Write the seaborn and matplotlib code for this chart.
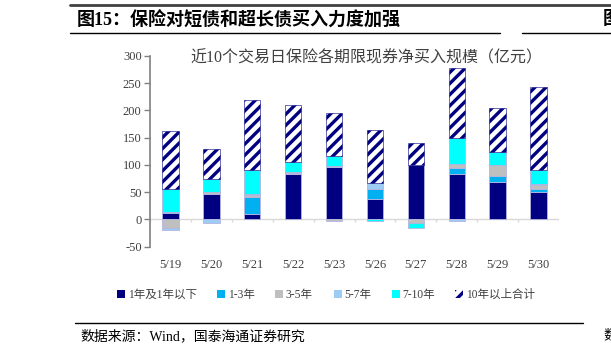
import numpy as np
import matplotlib
matplotlib.use("Agg")
import matplotlib.pyplot as plt
import matplotlib.patches as mpatches
import seaborn as sns

# 近10个交易日保险各期限现券净买入规模（亿元）
dates = ['5/19', '5/20', '5/21', '5/22', '5/23', '5/26', '5/27', '5/28', '5/29', '5/30']
y_1 = [12, 47, 10, 83, 96, 37, 100, 83, 68, 50]
y_1_3 = [2, 0, 31, 0, 0, 19, 0, 11, 11, 6]
y_3_5 = [-15, 4, 3, 2, -2, 0, -6, 8, 21, 7]
y_5_7 = [-4, -6, 2, 3, 3, 11, 0, -3, 0, 2]
y_7_10 = [42, 24, 45, 18, 17, -3, -10, 47, 24, 26]
y_10 = [106, 54, 128, 104, 80, 98, 40, 129, 81, 152]

names = ['1年及1年以下', '1-3年', '3-5年', '5-7年', '7-10年', '10年以上合计']
colors = ['#000080', '#00B0F0', '#BFBFBF', '#9DCCF5', '#00FFFF', 'white']
series = [y_1, y_1_3, y_3_5, y_5_7, y_7_10, y_10]

sns.set_style('white')
plt.rcParams['font.family'] = ['Liberation Serif', 'Noto Sans CJK SC', 'DejaVu Sans']
plt.rcParams['hatch.linewidth'] = 2.4
plt.rcParams['axes.unicode_minus'] = False

fig = plt.figure(figsize=(6.11, 3.56), dpi=100)
ax = fig.add_axes([150 / 611, 1 - 246.7 / 356, 409 / 611, 190.7 / 356])

pos = np.zeros(len(dates))
neg = np.zeros(len(dates))
for name, col, vals in zip(names, colors, series):
    v = np.array(vals, dtype=float)
    bottom = np.where(v >= 0, pos, neg)
    if name == '10年以上合计':
        sns.barplot(x=dates, y=v, order=dates, bottom=bottom, color='white',
                    edgecolor='#000080', hatch='///', linewidth=0.4,
                    width=0.4, errorbar=None, ax=ax, saturation=1)
    else:
        sns.barplot(x=dates, y=v, order=dates, bottom=bottom, color=col,
                    edgecolor='#B4B4E0', linewidth=0.6,
                    width=0.4, errorbar=None, ax=ax, saturation=1)
    pos = pos + np.where(v > 0, v, 0)
    neg = neg + np.where(v < 0, v, 0)

ax.set_ylim(-50, 300)
ax.set_xlim(-0.5, len(dates) - 0.5)
ax.set_yticks(range(-50, 301, 50))
ax.axhline(0, color='#D9D9D9', lw=1, zorder=0)
ax.vlines(np.arange(len(dates) + 1) - 0.5, -4, 0, color='#D9D9D9', lw=1)

for s in ['top', 'right', 'bottom']:
    ax.spines[s].set_visible(False)
ax.spines['left'].set_color('#808080')
ax.spines['left'].set_linewidth(1.2)
ax.tick_params(axis='y', direction='out', length=4, width=1, color='#808080',
               labelsize=9, labelcolor='#404040', pad=2, left=True)
ax.tick_params(axis='x', length=0, labelsize=9, labelcolor='#404040', pad=9)
ax.set_xlabel('')
ax.set_ylabel('')

ax.set_title('近10个交易日保险各期限现券净买入规模（亿元）', fontsize=11.5,
             color='#404040', x=0.528, y=0.965, pad=0)

handles = []
for name, col in zip(names, colors):
    if name == '10年以上合计':
        handles.append(mpatches.Patch(facecolor='white', edgecolor='#000080',
                                      hatch='///', linewidth=0, label=name))
    else:
        handles.append(mpatches.Patch(facecolor=col, edgecolor='none', label=name))
fig.legend(handles=handles, loc='center', bbox_to_anchor=(326 / 611, 1 - 295 / 356),
           ncol=6, frameon=False, fontsize=8.3, labelcolor='#404040',
           handlelength=0.7, handleheight=0.7, handletextpad=0.2, columnspacing=1.8)

# header / footer of the report page
fig.add_artist(plt.Line2D([70 / 611, 1], [1 - 5 / 356] * 2, color='#404040', lw=2))
fig.add_artist(plt.Line2D([70 / 611, 500 / 611], [1 - 33 / 356] * 2, color='black', lw=1))
fig.add_artist(plt.Line2D([522 / 611, 1], [1 - 33 / 356] * 2, color='black', lw=1))
fig.text(77 / 611, 1 - 20 / 356, '图15：保险对短债和超长债买入力度加强', fontsize=13,
         fontweight='bold', va='center', ha='left', color='black')
fig.text(603 / 611, 1 - 20 / 356, '图', fontsize=13, fontweight='bold',
         va='center', ha='left', color='black')
fig.add_artist(plt.Line2D([75 / 611, 583 / 611], [1 - 323 / 356] * 2, color='black', lw=1))
fig.text(80 / 611, 1 - 336 / 356, '数据来源：Wind，国泰海通证券研究', fontsize=10,
         va='center', ha='left', color='black')
fig.text(603 / 611, 1 - 336 / 356, '数', fontsize=10, va='center', ha='left', color='black')

fig.savefig('out.png', dpi=100)
